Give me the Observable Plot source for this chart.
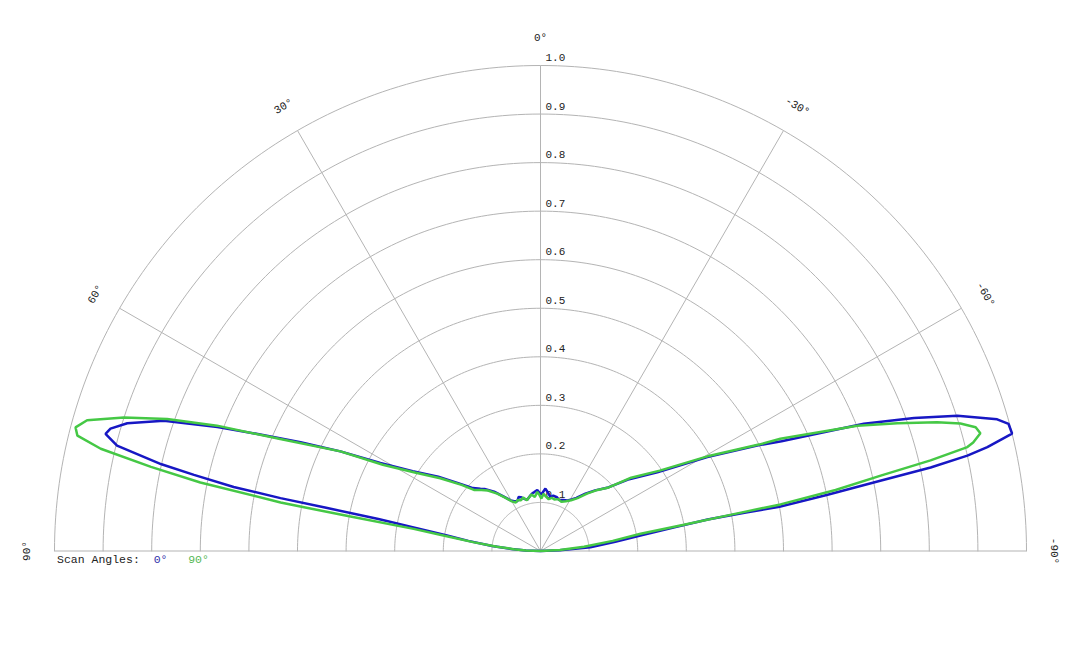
<!DOCTYPE html>
<html><head><meta charset="utf-8">
<script src="https://cdn.jsdelivr.net/npm/d3@7"></script>
<script src="https://cdn.jsdelivr.net/npm/@observablehq/plot@0.6"></script>
<style>
body{margin:0;background:#fff;}
#chart svg{overflow:visible;display:block}
#legend{font-family:"Liberation Mono","DejaVu Sans Mono",monospace;font-size:11.5px;white-space:pre;margin-left:57px;line-height:14px;color:#222}
</style></head><body><div id="chart"></div><div id="legend"></div>
<script>
// Radial rings (normalized magnitude) and their labels
const ringValues = [0.1, 0.2, 0.3, 0.4, 0.5, 0.6, 0.7, 0.8, 0.9, 1.0];
const ringLabels = ["0.1", "0.2", "0.3", "0.4", "0.5", "0.6", "0.7", "0.8", "0.9", "1.0"];
// Angular spokes (degrees; positive to the left) and labels
const spokeAngles = [90, 60, 30, 0, -30, -60, -90];
const angleLabels = ["90°", "60°", "30°", "0°", "-30°", "-60°", "-90°"];
// Series names
const seriesNames = ["0°", "90°"];
const seriesColors = ["#1717c4", "#45c845"];

// Scan angle 0° pattern
const blueAngle = [90, 88, 86, 84, 82, 80.6, 79.4, 78.8, 78.6, 78.5, 78.2, 77.6, 77.1, 76, 74.9, 74.1, 72.8, 70.9, 69, 67.5, 65.6, 63.5, 61.2, 58, 54, 50, 47, 44, 42, 38, 34, 30.5, 28, 25, 22, 20, 17, 14.5, 11, 8, 6, 3, 1, 0, -2, -4.5, -7, -10.5, -13, -17, -20, -24, -28, -31, -34, -38, -42, -46.5, -51, -56, -60.6, -64, -65.5, -68.5, -70.4, -72, -73.9, -74.8, -76, -76.9, -77.4, -77.9, -78.3, -78.9, -79.5, -79.4, -79.3, -80, -81.2, -83, -85.6, -88, -90];
const blueR = [0, 0.03, 0.06, 0.1, 0.15, 0.195, 0.27, 0.34, 0.45, 0.546, 0.645, 0.73, 0.8, 0.898, 0.927, 0.92, 0.89, 0.82, 0.712, 0.63, 0.542, 0.46, 0.376, 0.31, 0.26, 0.215, 0.19, 0.178, 0.172, 0.155, 0.135, 0.121, 0.116, 0.113, 0.12, 0.118, 0.112, 0.109, 0.115, 0.12, 0.122, 0.126, 0.12, 0.116, 0.12, 0.129, 0.122, 0.113, 0.117, 0.116, 0.112, 0.115, 0.118, 0.124, 0.132, 0.15, 0.168, 0.189, 0.235, 0.29, 0.394, 0.496, 0.545, 0.715, 0.816, 0.902, 0.978, 0.998, 1.0, 0.944, 0.9, 0.821, 0.714, 0.6, 0.5, 0.43, 0.35, 0.28, 0.208, 0.155, 0.103, 0.04, 0];

// Scan angle 90° pattern
const greenAngle = [90, 88, 86, 84.5, 82.5, 81, 80.1, 79.7, 79.5, 79.4, 78.6, 77.8, 76.9, 76, 75.1, 73.9, 72.2, 70.5, 68.8, 66.7, 63.5, 61.3, 58, 54, 50, 47.4, 44, 41, 37, 33, 30, 27, 24, 21, 18, 15, 12, 9, 6, 3, 1, -1, -3, -6, -9, -12, -15, -19, -23, -27, -31, -35, -39, -43, -47, -51, -56, -60.6, -64, -64.9, -68.4, -70.3, -72, -73.1, -74.1, -75, -75.9, -76.3, -76.9, -77.5, -78.3, -79, -79.2, -79.6, -80.2, -82, -84.5, -87, -90];
const greenR = [0, 0.03, 0.055, 0.09, 0.14, 0.2, 0.265, 0.4, 0.5, 0.544, 0.714, 0.82, 0.929, 0.982, 0.99, 0.971, 0.9, 0.815, 0.714, 0.583, 0.46, 0.37, 0.305, 0.255, 0.212, 0.186, 0.175, 0.165, 0.148, 0.13, 0.118, 0.112, 0.115, 0.112, 0.116, 0.108, 0.113, 0.118, 0.112, 0.122, 0.115, 0.108, 0.118, 0.112, 0.108, 0.112, 0.11, 0.113, 0.11, 0.115, 0.122, 0.133, 0.152, 0.172, 0.192, 0.24, 0.296, 0.4, 0.5, 0.545, 0.701, 0.78, 0.858, 0.903, 0.931, 0.937, 0.918, 0.904, 0.824, 0.717, 0.62, 0.503, 0.4, 0.3, 0.209, 0.15, 0.09, 0.04, 0];

const rad = Math.PI / 180;
const px = (a, r) => -r * Math.sin(a * rad);
const py = (a, r) => r * Math.cos(a * rad);

const series = [
  {name: seriesNames[0], color: seriesColors[0], pts: blueAngle.map((a, i) => ({a, r: blueR[i]}))},
  {name: seriesNames[1], color: seriesColors[1], pts: greenAngle.map((a, i) => ({a, r: greenR[i]}))}
];

const ringPts = ringValues.flatMap(v => d3.range(-90, 90.5, 1).map(a => ({v, a})));
const spokes = spokeAngles.filter(a => Math.abs(a) < 90).map(a => ({a}));
const labelR = 1.058;

const font = "'Liberation Mono','DejaVu Sans Mono',monospace";

const chart = Plot.plot({
  width: 1080,
  height: 553,
  marginLeft: 54,
  marginRight: 54,
  marginTop: 65,
  marginBottom: 2.5,
  x: {domain: [-1, 1], axis: null},
  y: {domain: [0, 1], axis: null},
  style: {fontFamily: font, overflow: "visible", background: "#fff"},
  marks: [
    Plot.line(ringPts, {x: d => px(d.a, d.v), y: d => py(d.a, d.v), z: "v", stroke: "#b4b4b4", strokeWidth: 1}),
    Plot.link(spokes, {x1: () => 0, y1: () => 0, x2: d => px(d.a, 1), y2: d => py(d.a, 1), stroke: "#b4b4b4", strokeWidth: 1}),
    Plot.link([{}], {x1: () => -1, y1: () => 0, x2: () => 1, y2: () => 0, stroke: "#b4b4b4", strokeWidth: 1.2}),
    Plot.text(ringValues.map((v, i) => ({v, t: ringLabels[i]})), {x: () => 0, y: "v", text: "t", dx: 5, dy: -8, textAnchor: "start", fontSize: 11, fill: "#222"}),
    Plot.text(spokeAngles.map((a, i) => ({a, t: angleLabels[i]})), {x: d => px(d.a, labelR), y: d => py(d.a, labelR), text: "t", rotate: d => -d.a, fontSize: 11, fill: "#222"}),
    ...series.map(s => Plot.line(s.pts, {x: d => px(d.a, d.r), y: d => py(d.a, d.r), stroke: s.color, strokeWidth: 2.5, strokeLinejoin: "miter"}))
  ]
});
document.getElementById("chart").append(chart);

const legend = document.getElementById("legend");
legend.append(document.createTextNode("Scan Angles:  "));
series.forEach((s, i) => {
  const sp = document.createElement("span");
  sp.textContent = s.name;
  sp.style.color = i === 0 ? "#3030aa" : "#55b855";
  legend.append(sp);
  if (i === 0) legend.append(document.createTextNode("   "));
});
</script></body></html>
